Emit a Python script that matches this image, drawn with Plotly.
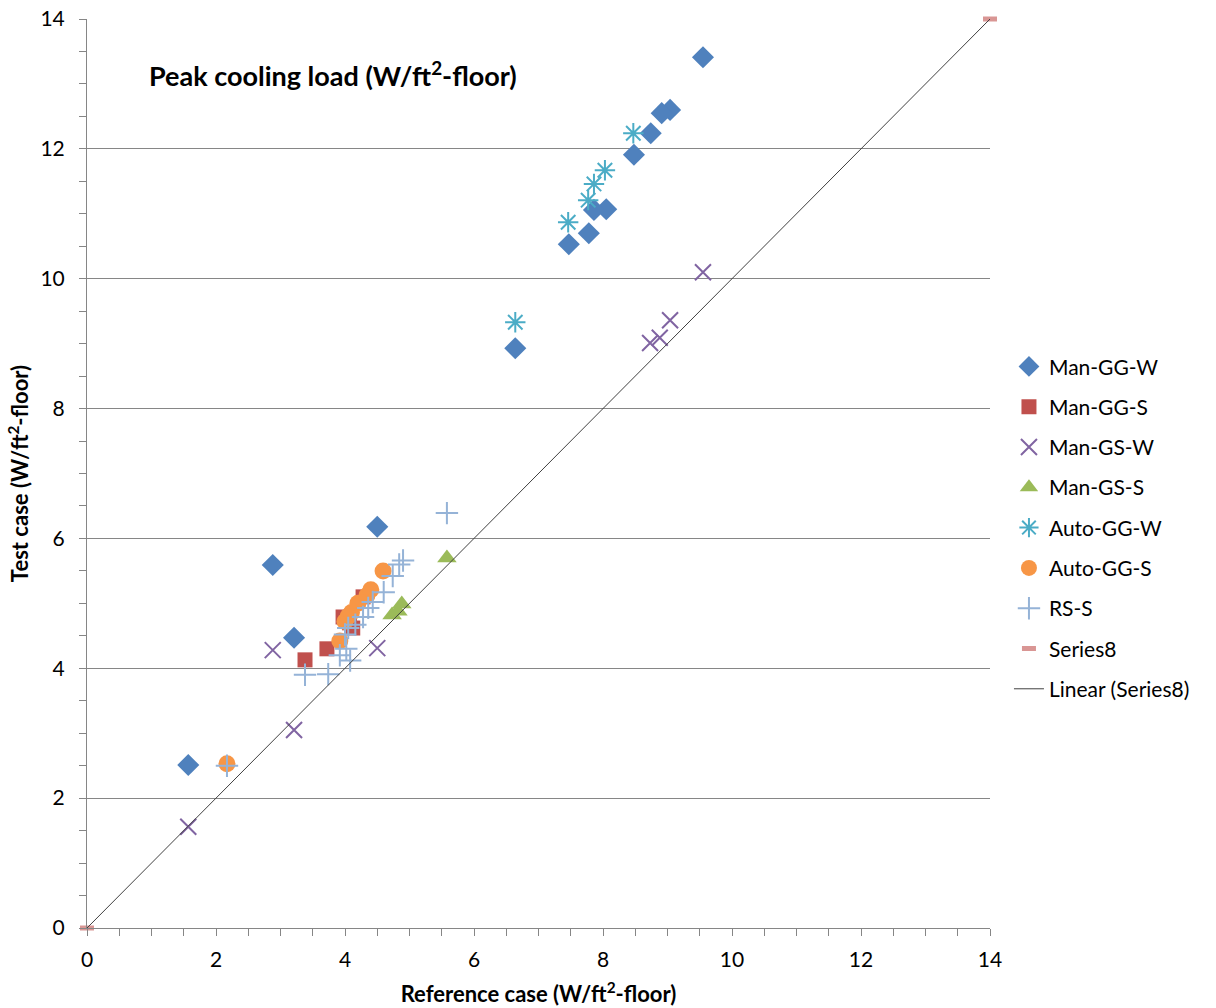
import plotly.graph_objects as go

# ---- data ----
man_gg_w_x = [9.55, 9.04, 8.91, 8.74, 8.48, 8.05, 7.86, 7.78, 7.47, 6.64, 4.50, 2.88, 3.21, 1.57]
man_gg_w_y = [13.41, 12.60, 12.55, 12.24, 11.91, 11.07, 11.06, 10.70, 10.53, 8.93, 6.18, 5.59, 4.47, 2.51]

man_gg_s_x = [3.38, 3.72, 3.97, 4.12, 4.07, 4.28]
man_gg_s_y = [4.13, 4.30, 4.79, 4.62, 4.70, 5.10]

man_gs_w_x = [9.55, 9.04, 8.88, 8.73, 2.88, 4.50, 3.21, 1.57]
man_gs_w_y = [10.10, 9.36, 9.09, 9.01, 4.28, 4.31, 3.05, 1.56]

man_gs_s_x = [4.73, 4.82, 4.88, 5.58]
man_gs_s_y = [4.82, 4.88, 4.99, 5.70]

auto_gg_w_x = [8.47, 8.03, 7.86, 7.77, 7.46, 6.64]
auto_gg_w_y = [12.24, 11.67, 11.46, 11.21, 10.87, 9.33]

auto_gg_s_x = [2.17, 3.92, 4.00, 4.05, 4.10, 4.20, 4.34, 4.40, 4.59]
auto_gg_s_y = [2.53, 4.42, 4.72, 4.80, 4.86, 5.00, 5.12, 5.21, 5.50]

rs_s_x = [2.17, 3.38, 3.74, 3.92, 4.08, 4.02, 4.00, 4.05, 4.16, 4.28, 4.36, 4.43, 4.60, 4.74, 4.84, 4.90, 5.58]
rs_s_y = [2.50, 3.90, 3.91, 4.20, 4.12, 4.30, 4.52, 4.62, 4.67, 4.79, 4.93, 5.02, 5.17, 5.42, 5.60, 5.66, 6.39]

series8_x = [0, 14]
series8_y = [0, 14]

FONT = "Lato"
GRID = "#868686"

fig = go.Figure()

def add(name, x, y, symbol, color, size, lw=0, clip=True):
    fig.add_trace(go.Scatter(
        x=x, y=y, mode="markers", name=name, legendgroup=name, cliponaxis=clip,
        marker=dict(symbol=symbol, size=size, color=color,
                    line=dict(width=lw, color=color)),
    ))

add("Man-GG-W", man_gg_w_x, man_gg_w_y, "diamond", "#4F81BD", 17)
add("Man-GG-S", man_gg_s_x, man_gg_s_y, "square", "#C0504D", 15)
add("Man-GS-W", man_gs_w_x, man_gs_w_y, "x-thin-open", "#8064A2", 16, lw=2)
add("Man-GS-S", man_gs_s_x, man_gs_s_y, "triangle-up", "#9BBB59", 17)
add("Auto-GG-W", auto_gg_w_x, auto_gg_w_y, "asterisk-open", "#4BACC6", 17, lw=2)
add("Auto-GG-S", auto_gg_s_x, auto_gg_s_y, "circle", "#F79646", 17)
add("RS-S", rs_s_x, rs_s_y, "cross-thin-open", "#95B3D7", 16, lw=2)
add("Series8", series8_x, series8_y, "line-ew", "#D99694", 10, lw=5, clip=False)

fig.add_trace(go.Scatter(
    x=series8_x, y=series8_y, mode="lines", name="Linear (Series8)",
    legendgroup="lin", line=dict(color="#404040", width=1),
))

axis_common = dict(
    range=[0, 14], dtick=2, tick0=0,
    showline=True, linecolor=GRID, linewidth=1,
    ticks="outside", ticklen=7, tickcolor=GRID,
    minor=dict(dtick=0.5, ticks="outside", ticklen=7, tickcolor=GRID, showgrid=False),
    tickfont=dict(family=FONT, size=21, color="#000000"),
    zeroline=False, fixedrange=True, automargin=False,
)

fig.update_xaxes(**axis_common, showgrid=False, ticklabelstandoff=6,
                 title=dict(text="<b>Reference case (W/ft<sup>2</sup>-floor)</b>",
                            font=dict(family=FONT, size=22, color="#000"), standoff=16))
fig.update_yaxes(**axis_common, showgrid=True, gridcolor=GRID, gridwidth=1,
                 ticklabelstandoff=10,
                 title=dict(text="<b>Test case (W/ft<sup>2</sup>-floor)</b>",
                            font=dict(family=FONT, size=22, color="#000"), standoff=5))

fig.add_annotation(
    xref="paper", yref="paper", x=0.066, y=0.94, xanchor="left", yanchor="middle",
    text="<b>Peak cooling load (W/ft<sup>2</sup>-floor)</b>", showarrow=False,
    font=dict(family=FONT, size=27, color="#000"),
)

fig.update_layout(
    width=1216, height=1008,
    margin=dict(l=87, r=226, t=19, b=80),
    plot_bgcolor="#FFFFFF", paper_bgcolor="#FFFFFF",
    showlegend=True,
    legend=dict(x=1.021, y=0.64, xanchor="left", yanchor="top",
                font=dict(family=FONT, size=21, color="#000"),
                traceorder="grouped", tracegroupgap=10, itemwidth=30,
                bgcolor="rgba(0,0,0,0)"),
)

fig.write_html("out.html")
